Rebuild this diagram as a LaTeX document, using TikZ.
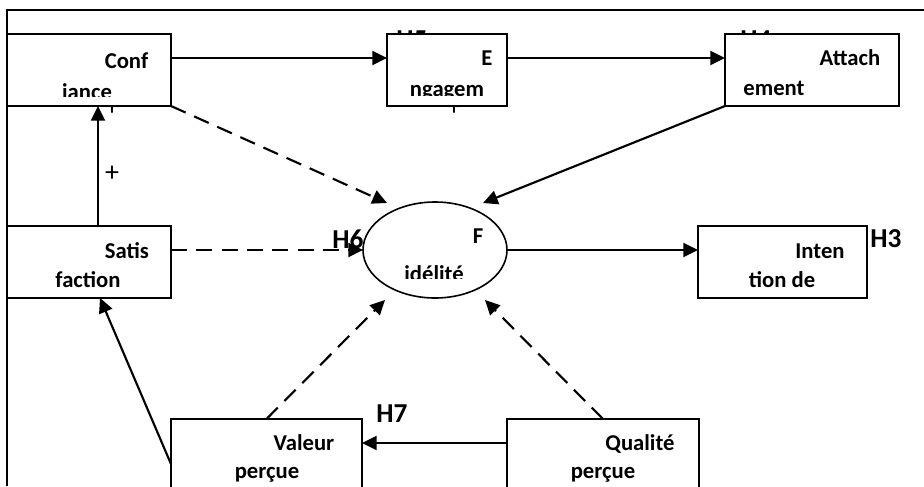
\documentclass[tikz,border=0pt]{standalone}
\usepackage{fontspec}
\setmainfont{Carlito}
\usetikzlibrary{arrows.meta, shapes.geometric}

\begin{document}
\begin{tikzpicture}[
    x=0.75pt, y=-0.75pt,
    >={Triangle[length=11pt, width=10.5pt]},
    box/.style={draw, fill=white, line width=1.2pt, inner sep=0pt, outer sep=0pt, minimum height=54pt},
    lbl/.style={inner sep=0pt, anchor=base, font=\bfseries\fontsize{17}{20}\selectfont},
    hyp/.style={inner sep=0pt, anchor=base, font=\bfseries\fontsize{20.5}{24}\selectfont},
    sign/.style={inner sep=0pt, anchor=base, font=\fontsize{21}{24}\selectfont},
    link/.style={->, line width=1.6pt},
    dlink/.style={link, dash pattern=on 12pt off 7pt},
]
    \useasboundingbox (0,0) rectangle (924,486);

    % frame
    \draw[line width=1.2pt] (7,486) -- (7,10) -- (924,10);

    % labels partly hidden by the boxes
    \node[hyp]  (h5)    at (412,48)  {H5};
    \node[hyp]  (h4)    at (756,48)  {H4};
    \node[sign] (pconf) at (112,115) {+};
    \node[sign] (peng)  at (454,115) {+};

    % boxes
    \node[box, minimum width=123pt]    (conf) at (89,70)    {};
    \node[box, minimum width=90pt]     (eng)  at (447,70)   {};
    \node[box, minimum width=130.5pt]  (att)  at (812,70)   {};
    \node[box, minimum width=123pt]    (sat)  at (89,262)   {};
    \node[box, minimum width=126.75pt] (int)  at (782.5,262) {};
    \node[box, minimum width=143.25pt] (val)  at (266.5,455) {};
    \node[box, minimum width=144pt]    (qual) at (603,455)  {};
    \node[draw, ellipse, fill=white, line width=1.2pt, inner sep=0pt, outer sep=0pt,
          minimum width=108pt, minimum height=72pt] (fid) at (435,250) {};

    % box texts
    \begin{scope}
        \clip ([yshift=7pt]conf.south west) rectangle (conf.north east);
        \node[lbl] (conf1) at (126.5,68) {Conf};
        \node[lbl] (conf2) at (87,99)    {iance};
    \end{scope}
    \begin{scope}
        \clip ([yshift=8.25pt]eng.south west) rectangle (eng.north east);
        \node[lbl] (eng1) at (487,65) {E};
        \node[lbl] (eng2) at (447,96) {ngagem};
    \end{scope}
    \begin{scope}
        \clip (fid.north -| fid.west) rectangle ([yshift=15pt]fid.south -| fid.east);
        \node[lbl] (fid1) at (478,243) {F};
        \node[lbl] (fid2) at (434,281) {idélité};
    \end{scope}
    \node[lbl] (att1)  at (850,65)  {Attach};
    \node[lbl] (att2)  at (774,95)  {ement};
    \node[lbl] (sat1)  at (127,258) {Satis};
    \node[lbl] (sat2)  at (88,287)  {faction};
    \node[lbl] (int1)  at (820,258) {Inten};
    \node[lbl] (int2)  at (782,287) {tion de};
    \node[lbl] (val1)  at (304,450) {Valeur};
    \node[lbl] (val2)  at (267,478) {perçue};
    \node[lbl] (qual1) at (640,450) {Qualité};
    \node[lbl] (qual2) at (603,478) {perçue};

    % hypotheses
    \node[hyp]  (h6)   at (348,248) {H6};
    \node[hyp]  (h3)   at (886,247) {H3};
    \node[hyp]  (h7)   at (392,422) {H7};
    \node[sign] (plus) at (112,181) {+};

    % ends on the ellipse
    \coordinate (fNW) at ([shift={(-48,-47)}]fid.center);
    \coordinate (fNE) at ([shift={(48,-47)}]fid.center);
    \coordinate (fSW) at ([shift={(-50,50)}]fid.center);
    \coordinate (fSE) at ([shift={(50,50)}]fid.center);

    \path[link]
        ([yshift=9pt]conf.east)  edge ([yshift=9pt]eng.west)
        ([yshift=9pt]eng.east)   edge ([yshift=9pt]att.west)
        (att.south west)         edge (fNE)
        (fid.east)               edge (int.west |- fid.east)
        ([yshift=9pt]qual.west)  edge ([yshift=9pt]val.east)
        ([yshift=-6.75pt]val.west) edge ([xshift=8.25pt]sat.south)
        ([xshift=6.75pt]sat.north) edge ([xshift=6.75pt]conf.south)
    ;
    \path[dlink]
        (conf.south east)        edge (fNW)
        (sat.east |- fid.west)   edge (fid.west)
        (val.north)              edge (fSW)
        (qual.north)             edge (fSE)
    ;
\end{tikzpicture}
\end{document}
